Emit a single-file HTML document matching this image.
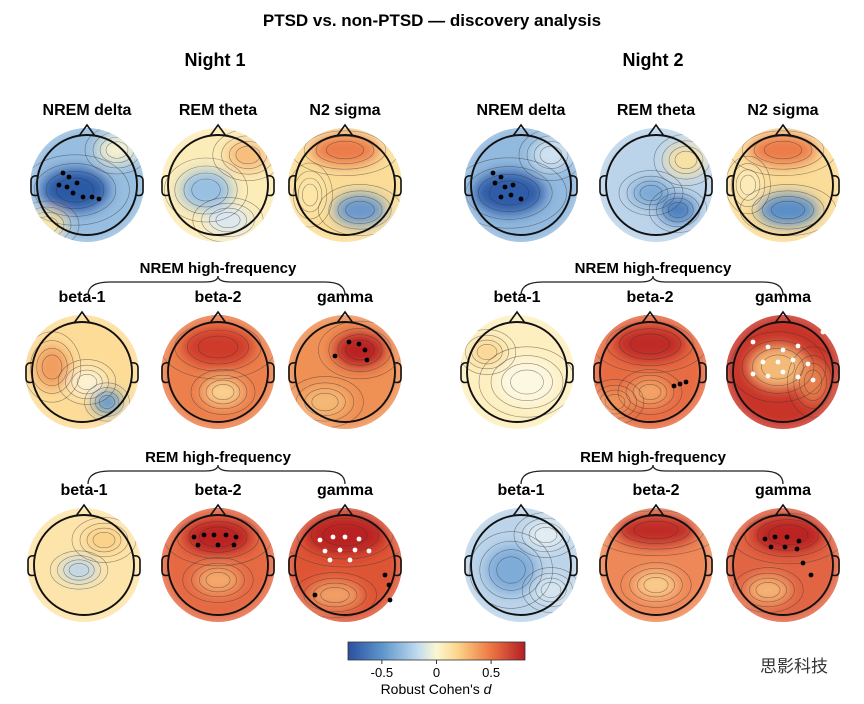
<!DOCTYPE html>
<html><head><meta charset="utf-8">
<style>
body{margin:0;background:#fff;}
svg{display:block;font-family:"Liberation Sans",Arial,sans-serif;}
</style></head>
<body>
<svg id="fig" width="864" height="704" viewBox="0 0 864 704">
<defs>
<filter id="blur" x="-50%" y="-50%" width="200%" height="200%"><feGaussianBlur stdDeviation="6.5"/></filter>
<filter id="blur2" x="-50%" y="-50%" width="200%" height="200%"><feGaussianBlur stdDeviation="4"/></filter>
<linearGradient id="cbar" x1="0" x2="1" y1="0" y2="0">
<stop offset="0" stop-color="#2b4fa0"/><stop offset="0.2" stop-color="#5f98cc"/><stop offset="0.4" stop-color="#c4ddef"/>
<stop offset="0.5" stop-color="#fbf7d2"/><stop offset="0.62" stop-color="#fbd58a"/><stop offset="0.8" stop-color="#ee7a45"/><stop offset="1" stop-color="#b41d26"/>
</linearGradient>
</defs>
<text x="432" y="26" text-anchor="middle" font-size="17" font-weight="bold">PTSD vs. non-PTSD — discovery analysis</text>
<text x="215" y="66" text-anchor="middle" font-size="18" font-weight="bold">Night 1</text>
<text x="653" y="66" text-anchor="middle" font-size="18" font-weight="bold">Night 2</text>
<g id="heads"></g>
<g>
<text x="218" y="273" text-anchor="middle" font-size="15" font-weight="bold">NREM high-frequency</text>
<text x="653" y="273" text-anchor="middle" font-size="15" font-weight="bold">NREM high-frequency</text>
<text x="218" y="462" text-anchor="middle" font-size="15" font-weight="bold">REM high-frequency</text>
<text x="653" y="462" text-anchor="middle" font-size="15" font-weight="bold">REM high-frequency</text>
<path d="M88,295 Q88,282 110,282 L205,282 Q218,282 218,276 Q218,282 231,282 L325,282 Q345,282 345,295" fill="none" stroke="#222" stroke-width="1.3"/>
<path d="M521,295 Q521,282 543,282 L640,282 Q653,282 653,276 Q653,282 666,282 L763,282 Q783,282 783,295" fill="none" stroke="#222" stroke-width="1.3"/>
<path d="M88,484 Q88,471 110,471 L205,471 Q218,471 218,465 Q218,471 231,471 L325,471 Q345,471 345,484" fill="none" stroke="#222" stroke-width="1.3"/>
<path d="M521,484 Q521,471 543,471 L640,471 Q653,471 653,465 Q653,471 666,471 L763,471 Q783,471 783,484" fill="none" stroke="#222" stroke-width="1.3"/>
</g>
<g>
<rect x="348" y="642" width="177" height="18" fill="url(#cbar)" stroke="#333" stroke-width="0.8"/>
<g id="cbticks"></g>
<text x="436" y="694" text-anchor="middle" font-size="14">Robust Cohen's <tspan font-style="italic">d</tspan></text>
</g>
<text x="828" y="672" text-anchor="end" font-size="17" fill="#333" font-family="'Liberation Sans','Noto Sans CJK SC',sans-serif">思影科技</text>
</svg>
<script>
const labels=["NREM delta","REM theta","N2 sigma","NREM delta","REM theta","N2 sigma",
"beta-1","beta-2","gamma","beta-1","beta-2","gamma",
"beta-1","beta-2","gamma","beta-1","beta-2","gamma"];
const centers=[[87,185],[218,185],[345,185],[521,185],[656,185],[783,185],
[82,372],[218,372],[345,372],[517,372],[650,372],[783,372],
[84,565],[218,565],[345,565],[521,565],[656,565],[783,565]];
const bases=["#97bde0","#fcecb8","#fbdd98","#92b9de","#bcd4ea","#fbdc98",
"#fddc98","#ec7f4c","#ef9055","#fdefc0","#e76c43","#c93428",
"#fde4aa","#e56a44","#de5536","#bcd4ea","#ee8858","#e16443"];
const blobs=[
[[-12,5,34,22,"#2c5aa6"],[30,-35,20,15,"#f5f1d0"],[-40,40,20,15,"#f9e2a0"]],
[[-12,5,26,20,"#98c0e2"],[30,-30,22,16,"#f7bd7c"],[10,35,22,14,"#dbe8f2"]],
[[0,-35,34,16,"#ec7c48"],[15,25,26,16,"#6a98cc"],[-35,10,14,20,"#fde6a8"]],
[[-12,8,36,22,"#2d5ca8"],[30,-30,20,16,"#d0e2ef"]],
[[22,25,18,14,"#4b7fbe"],[-5,8,20,14,"#7ca9d5"],[30,-25,20,16,"#f9e2a2"]],
[[0,-35,34,16,"#ec7c48"],[5,25,30,16,"#5a8ec8"],[-35,0,14,18,"#fcecbc"]],
[[25,30,14,12,"#5f97cc"],[-30,-5,18,22,"#f19e5e"],[5,10,18,14,"#fdf3d4"]],
[[0,-25,36,20,"#cf3a2a"],[5,20,20,14,"#fbd390"]],
[[15,-22,26,18,"#b92224"],[-20,30,24,16,"#f5b874"]],
[[10,10,30,22,"#fdf8e2"],[-30,-20,18,14,"#fbd796"]],
[[0,-28,36,18,"#c02a26"],[0,20,20,14,"#f3a466"],[-35,30,18,14,"#ef9158"]],
[[-5,-5,30,22,"#f4bb78"],[30,10,16,22,"#e6804e"]],
[[-5,5,18,12,"#bcd6ea"],[20,-25,20,14,"#fbd088"]],
[[0,-28,34,18,"#bb2224"],[0,15,22,14,"#f4aa6c"]],
[[0,-30,40,20,"#b92224"],[-10,30,26,14,"#f1a066"]],
[[-10,5,26,24,"#7eabd8"],[25,-30,20,14,"#e3eef3"],[30,25,18,14,"#d6e6f0"]],
[[0,-35,40,16,"#c02a26"],[0,20,22,14,"#fbcc8c"]],
[[5,-30,36,18,"#bb2424"],[-15,25,22,14,"#f5b474"]]];
const dots=[
[[-24,-12,"#000"],[-18,-8,"#000"],[-28,0,"#000"],[-20,2,"#000"],[-10,-2,"#000"],[-14,8,"#000"],[5,12,"#000"],[12,14,"#000"],[-4,12,"#000"]],
[],[],
[[-28,-12,"#000"],[-20,-8,"#000"],[-26,-2,"#000"],[-16,2,"#000"],[-8,0,"#000"],[-10,10,"#000"],[0,14,"#000"],[-20,12,"#000"]],
[],[],[],[],
[[4,-30,"#000"],[14,-28,"#000"],[20,-22,"#000"],[-10,-16,"#000"],[22,-12,"#000"]],
[],
[[30,12,"#000"],[36,10,"#000"],[24,14,"#000"]],
[[-30,-30,"#fff"],[-15,-25,"#fff"],[0,-22,"#fff"],[15,-26,"#fff"],[-20,-10,"#fff"],[-5,-10,"#fff"],[10,-12,"#fff"],[25,-8,"#fff"],[-30,2,"#fff"],[-15,4,"#fff"],[0,0,"#fff"],[15,5,"#fff"],[30,8,"#fff"],[40,-40,"#fff"]],
[],
[[-24,-28,"#000"],[-14,-30,"#000"],[-4,-30,"#000"],[8,-30,"#000"],[18,-28,"#000"],[-20,-20,"#000"],[0,-20,"#000"],[16,-20,"#000"]],
[[-25,-25,"#fff"],[-12,-28,"#fff"],[0,-28,"#fff"],[14,-26,"#fff"],[-20,-14,"#fff"],[-5,-15,"#fff"],[10,-15,"#fff"],[24,-14,"#fff"],[-15,-5,"#fff"],[5,-5,"#fff"],[40,10,"#000"],[44,20,"#000"],[-30,30,"#000"],[45,35,"#000"]],
[],[],
[[-18,-26,"#000"],[-8,-28,"#000"],[4,-28,"#000"],[16,-24,"#000"],[-12,-18,"#000"],[2,-18,"#000"],[14,-16,"#000"],[20,-2,"#000"],[28,10,"#000"]]];
const cbTicks=[-0.5,0,0.5];
const cbMin=-0.81, cbMax=0.81;
const NS="http://www.w3.org/2000/svg";
function mk(t,a,p){const e=document.createElementNS(NS,t);for(const k in a)e.setAttribute(k,a[k]);p.appendChild(e);return e;}
const hg=document.getElementById('heads');
const defs=document.querySelector('defs');
labels.forEach((lab,i)=>{
  const [cx,cy]=centers[i];
  const g=mk('g',{},hg);
  
  
  const t=mk('text',{x:cx,y:cy-70,'text-anchor':'middle','font-size':16,'font-weight':'bold'},g);
  t.textContent=lab;
  
  
  const cp=mk('clipPath',{id:'cp'+i},defs);
  mk('circle',{cx:cx,cy:cy,r:57},cp);
  const m=mk('g',{'clip-path':'url(#cp'+i+')'},g);
  mk('circle',{cx:cx,cy:cy,r:60,fill:bases[i]},m);
  const bg=mk('g',{filter:'url(#blur)'},m);
  blobs[i].forEach(b=>{mk('ellipse',{cx:cx+b[0],cy:cy+b[1],rx:b[2],ry:b[3],fill:b[4]},bg);});
  blobs[i].forEach(b=>{
    [0.55,0.85,1.2,1.6].forEach(s=>{
      mk('ellipse',{cx:cx+b[0],cy:cy+b[1],rx:b[2]*s,ry:b[3]*s,fill:'none',stroke:'#333','stroke-width':0.6,'stroke-opacity':0.55},m);
    });
  });
  mk('circle',{cx:cx,cy:cy,r:57,fill:'none',stroke:'#fff','stroke-width':6,'stroke-opacity':0.3,filter:'url(#blur2)'},m);
  mk('path',{d:`M${cx-8},${cy-49} L${cx},${cy-60} L${cx+8},${cy-49}`,fill:'none',stroke:'#111','stroke-width':1.6},g);
  mk('path',{d:`M${cx-49},${cy-9} Q${cx-56},${cy-10} ${cx-56},${cy-4} L${cx-56},${cy+6} Q${cx-56},${cy+12} ${cx-49},${cy+10}`,fill:'none',stroke:'#111','stroke-width':1.6},g);
  mk('path',{d:`M${cx+49},${cy-9} Q${cx+56},${cy-10} ${cx+56},${cy-4} L${cx+56},${cy+6} Q${cx+56},${cy+12} ${cx+49},${cy+10}`,fill:'none',stroke:'#111','stroke-width':1.6},g);
  mk('circle',{cx:cx,cy:cy,r:50,fill:'none',stroke:'#111','stroke-width':1.9},g);
  dots[i].forEach(d=>{
    const c=mk('circle',{cx:cx+d[0],cy:cy+d[1],r:2.4,fill:d[2]},g);
    
    
  });
});
const tg=document.getElementById('cbticks');
function xs(v){return 348+(v-cbMin)/(cbMax-cbMin)*177;}
cbTicks.forEach(v=>{
  const x=xs(v);
  mk('line',{x1:x,x2:x,y1:660,y2:664,stroke:'#333'},tg);
  const t=mk('text',{x:x,y:677,'text-anchor':'middle','font-size':13},tg);
  t.textContent=v===0?'0':(v<0?'-0.5':'0.5');
  
  
});
</script>
</body></html>
